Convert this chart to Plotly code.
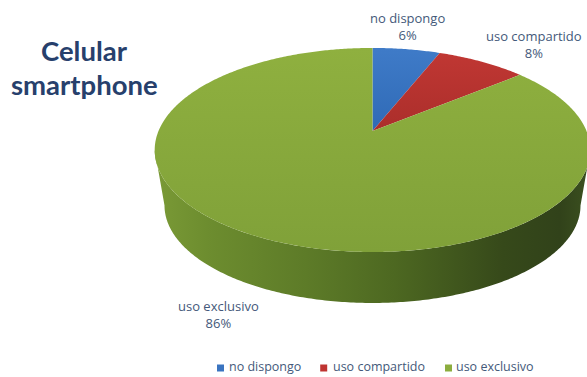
import numpy as np
import plotly.graph_objects as go

# Survey shares, clockwise from twelve o'clock
categories = ["no dispongo", "uso compartido", "uso exclusivo"]
shares = [6, 8, 86]

top_colors = [
    [[0, "#2f6ab6"], [1, "#3f7bc8"]],
    [[0, "#ab2e2b"], [1, "#c03733"]],
    [[0, "#80a139"], [1, "#8fb03f"]],
]
wall_stops = [
    [0, "#7a9a36"], [0.12, "#6d8d2f"], [0.35, "#5d7b28"], [0.55, "#4d6821"],
    [0.8, "#36491a"], [0.93, "#31421a"], [1, "#3c5120"],
]
label_color = "#44597a"
title_color = "#27406c"

# Perspective disc: pivot position, radii, foreshortening, rim depth and base shrink
CX, CY = 372.5, 131.0
RX, RY = 214.0, 98.5
TILT = 0.186
DEPTH = 56.4
BASE_SCALE = 0.955


def rim(theta):
    """Project angle on the disc (0 = top, clockwise) to the page."""
    w = 1 + TILT * np.cos(theta)
    return CX + RX * np.sin(theta) / w, CY - RY * np.cos(theta) / w


fig = go.Figure()

# Side wall of the pie: silhouette between the two horizontal extremes,
# closing along a slightly smaller base rim
edge = np.arccos(-TILT)
arc = np.linspace(edge, 2 * np.pi - edge, 240)
ax, ay = rim(arc)
bx = CX + BASE_SCALE * (ax - CX)
by = CY + DEPTH + BASE_SCALE * (ay - CY)
fig.add_trace(go.Scatter(
    x=np.r_[ax, bx[::-1]], y=np.r_[ay, by[::-1]],
    mode="none", fill="toself", showlegend=False, hoverinfo="skip",
    fillgradient=dict(type="horizontal", colorscale=wall_stops),
))

# Top face slices
bounds = np.cumsum([0] + shares) / sum(shares) * 2 * np.pi
for name, value, start, stop, scale in zip(categories, shares, bounds[:-1], bounds[1:], top_colors):
    t = np.linspace(start, stop, max(int(value * 6), 12))
    sx, sy = rim(t)
    fig.add_trace(go.Scatter(
        x=np.r_[CX, sx, CX], y=np.r_[CY, sy, CY],
        mode="none", fill="toself", showlegend=False,
        name=name, text=f"{name}: {value}%", hoverinfo="text",
        fillgradient=dict(type="vertical", colorscale=scale),
    ))

# Hand-placed key under the pie: swatches, then their captions
key_x = [220.5, 323.7, 448.5]
key_text_x = [229, 333, 456]
key_colors = ["#3a74c0", "#bf3431", "#8cad3e"]
fig.add_trace(go.Scatter(
    x=key_x, y=[368] * 3, mode="markers",
    marker=dict(symbol="square", size=7, color=key_colors),
    showlegend=False, hoverinfo="skip",
))
fig.add_trace(go.Scatter(
    x=key_text_x, y=[368] * 3, mode="text",
    text=categories, textposition="middle right",
    textfont=dict(family="Open Sans", size=12.5, color=label_color),
    showlegend=False, hoverinfo="skip",
))

# Slice labels and heading
label_pos = [(407, 26), (533.5, 44), (218, 314)]
annotations = [
    dict(x=x, y=y, text=f"{c}<br>{v}%", showarrow=False, xref="x", yref="y",
         font=dict(family="Open Sans", size=13, color=label_color))
    for c, v, (x, y) in zip(categories, shares, label_pos)
]
for line, y in (("Celular", 50), ("smartphone", 84)):
    annotations.append(dict(
        x=84.5, y=y, text=f"<b>{line}</b>", showarrow=False, xref="x", yref="y",
        font=dict(family="Lato", size=27.5, color=title_color),
    ))

fig.update_layout(
    width=587, height=377, margin=dict(l=0, r=0, t=0, b=0),
    paper_bgcolor="white", plot_bgcolor="white",
    xaxis=dict(range=[0, 587], visible=False, fixedrange=True),
    yaxis=dict(range=[377, 0], visible=False, fixedrange=True),
    annotations=annotations,
)
fig.write_html("out.html", config=dict(displayModeBar=False))
